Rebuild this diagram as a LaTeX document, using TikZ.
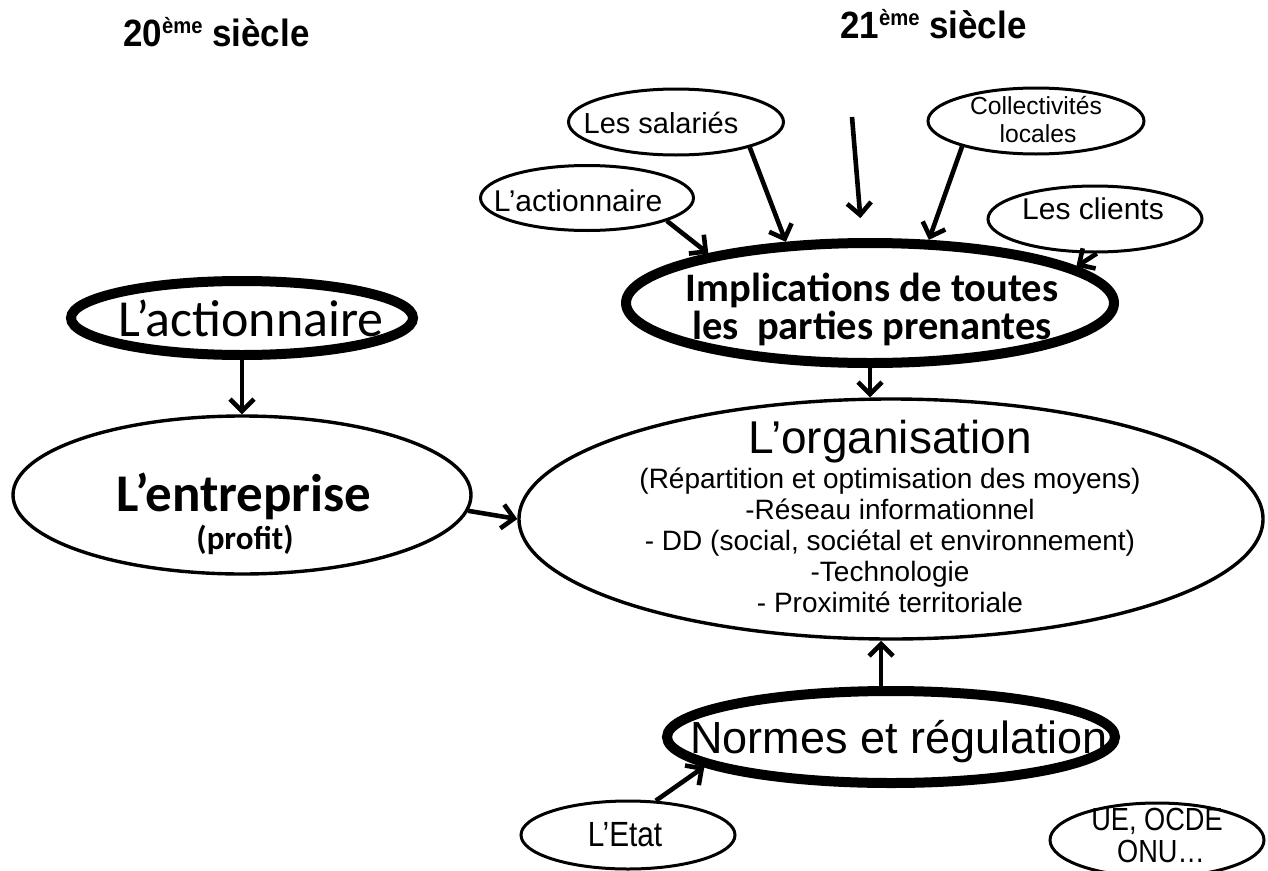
\documentclass[tikz,border=0pt]{standalone}
\usepackage{fontspec}
\setmainfont{Liberation Sans}
\newfontfamily\arialf{Liberation Sans}
\newfontfamily\arialt[FakeStretch=0.92]{Liberation Sans}
\newfontfamily\arialn[FakeStretch=0.85]{Liberation Sans}
\newfontfamily\calib{Carlito}
\usetikzlibrary{shapes.geometric,arrows.meta,calc}
\begin{document}
\begin{tikzpicture}[x=1pt,y=-1pt,
  ell/.style={ellipse,draw,inner sep=0pt},
  heavy/.style={ell,line width=10pt},
  light/.style={ell,line width=3.4pt},
  small/.style={ell,line width=3pt},
  arr/.style={line width=4.6pt,-{Straight Barb[length=12pt,width=24pt]}},
  txt/.style={inner sep=0pt,anchor=base}]
\useasboundingbox (0,0) rectangle (1268,870);
\clip (0,0) rectangle (1268,870);

% titles
\node[txt,anchor=base west,font=\arialt\bfseries\fontsize{38}{42}\selectfont] (t20) at (123,46)
  {20\raisebox{13pt}{\fontsize{22}{24}\selectfont ème} siècle};
\node[txt,anchor=base west,font=\arialt\bfseries\fontsize{38}{42}\selectfont] (t21) at (840,38)
  {21\raisebox{13pt}{\fontsize{22}{24}\selectfont ème} siècle};

% ellipses
\node[heavy,minimum width=342pt,minimum height=74pt] (bact) at (242,318) {};
\node[light,minimum width=458pt,minimum height=158pt] (ent) at (242,495) {};
\node[light,minimum width=744pt,minimum height=240pt] (org) at (891,519) {};
\node[heavy,minimum width=488pt,minimum height=120pt] (impl) at (870,303) {};
\node[heavy,minimum width=448pt,minimum height=92pt] (norm) at (891,737) {};
\node[small,minimum width=215pt,minimum height=66pt] (sal) at (676,122) {};
\node[small,minimum width=213pt,minimum height=65pt] (sact) at (587,198) {};
\node[small,minimum width=216pt,minimum height=66pt] (coll) at (1036,121) {};
\node[small,minimum width=214pt,minimum height=66pt] (cli) at (1095,219) {};
\node[small,minimum width=214pt,minimum height=68pt] (etat) at (628,835) {};
\node[small,minimum width=214pt,minimum height=74pt] (ue) at (1157,840) {};

% texts
\node[txt,font=\calib\fontsize{52}{58}\selectfont] (bactT) at (251,336) {L’actionnaire};
\node[txt,font=\calib\bfseries\fontsize{53}{60}\selectfont] (entA) at (244,511) {L’entreprise};
\node[txt,font=\calib\bfseries\fontsize{33}{40}\selectfont] (entB) at (245,549) {(profit)};
\node[txt,font=\calib\bfseries\fontsize{40.5}{45}\selectfont] (implA) at (872,301) {Implications de toutes};
\node[txt,font=\calib\bfseries\fontsize{40.5}{45}\selectfont] (implB) at (872,339) {les\ \ parties prenantes};
\node[txt,font=\arialf\fontsize{46}{50}\selectfont] (orgA) at (890,453) {L’organisation};
\node[txt,font=\arialf\fontsize{28}{31}\selectfont] (orgB) at (890,488) {(Répartition et optimisation des moyens)};
\node[txt,font=\arialf\fontsize{28}{31}\selectfont] (orgC) at (890,519) {-Réseau informationnel};
\node[txt,font=\arialf\fontsize{28}{31}\selectfont] (orgD) at (890,550) {- DD (social, sociétal et environnement)};
\node[txt,font=\arialf\fontsize{28}{31}\selectfont] (orgE) at (890,581) {-Technologie};
\node[txt,font=\arialf\fontsize{28}{31}\selectfont] (orgF) at (890,612) {- Proximité territoriale};
\node[txt,font=\arialf\fontsize{45}{50}\selectfont] (normT) at (899,753) {Normes et régulation};
\node[txt,font=\arialf\fontsize{29}{33}\selectfont] (salT) at (661,133) {Les salariés};
\node[txt,font=\arialf\fontsize{30}{34}\selectfont] (sactT) at (578,211) {L’actionnaire};
\node[txt,font=\arialf\fontsize{24.7}{28}\selectfont] (collA) at (1036,114) {Collectivités};
\node[txt,font=\arialf\fontsize{24.7}{28}\selectfont] (collB) at (1038,142) {locales};
\node[txt,font=\arialf\fontsize{30}{34}\selectfont] (cliT) at (1093,219) {Les clients};
\node[txt,font=\arialn\fontsize{35}{40}\selectfont] (etatT) at (625,846) {L’Etat};
\node[txt,font=\arialn\fontsize{32}{36}\selectfont] (ueA) at (1157,830) {UE, OCDE};
\node[txt,font=\arialn\fontsize{32}{36}\selectfont] (ueB) at (1161,862) {ONU…};

% connectors
\coordinate (free) at (852,117);
\draw[arr] (bact.south) -- (ent.north);
\draw[arr] (ent.-4) -- (org.west);
\draw[arr] (impl.south) -- (impl.south |- org.north);
\draw[arr] (norm.101) -- (norm.101 |- org.south);
\draw[arr] (etat.51) -- (norm.189);
\draw[arr] (sact.-16) -- (impl.163);
\draw[arr] (sal.-19) -- (impl.144);
\draw[arr,shorten >=20pt] (free) -- (impl.97);
\draw[arr] (coll.199) -- (impl.47);
\draw[arr] (cli.-87) -- (impl.10);
\end{tikzpicture}
\end{document}
